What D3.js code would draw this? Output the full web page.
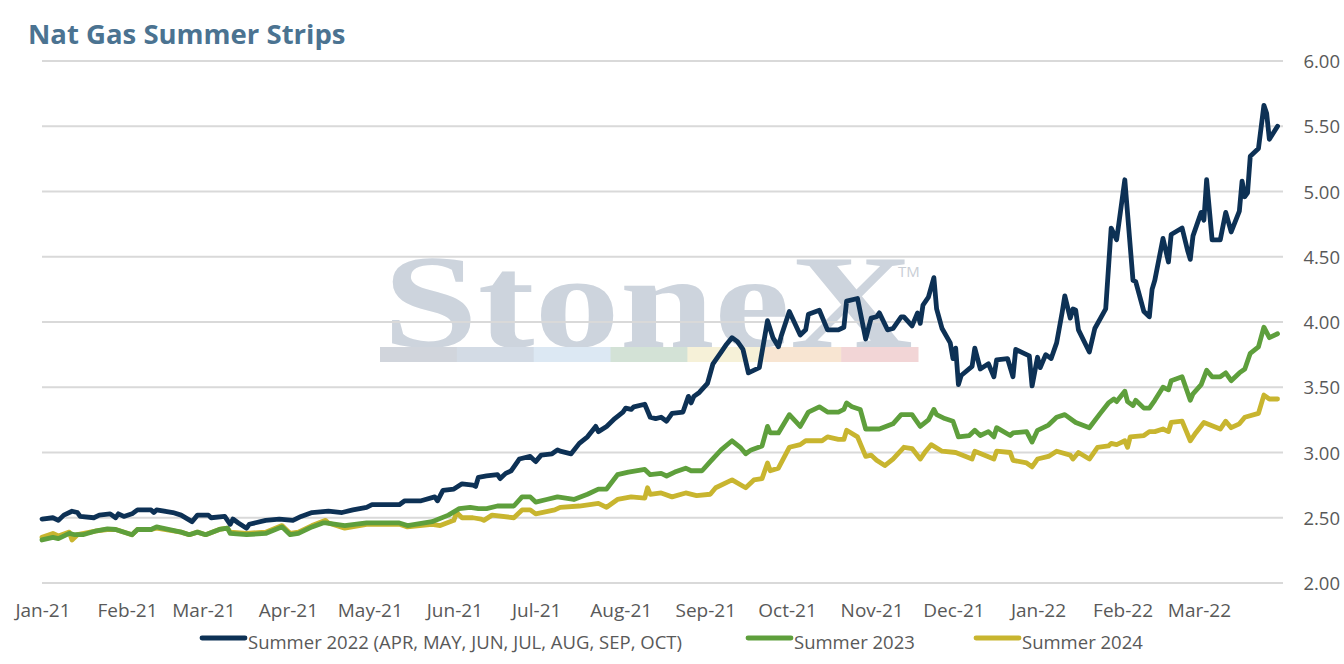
<!DOCTYPE html>
<html>
<head>
<meta charset="utf-8">
<script src="https://cdn.jsdelivr.net/npm/d3@7"></script>
<style>
    html, body { margin: 0; padding: 0; background: #fff; }
    svg { display: block; }
</style>
</head>
<body>
<div id="chart"></div>
<script>
const title = 'Nat Gas Summer Strips';

const seriesNames = [
    'Summer 2022 (APR, MAY, JUN, JUL, AUG, SEP, OCT)',
    'Summer 2023',
    'Summer 2024'
];

const yTicks = [2.0, 2.5, 3.0, 3.5, 4.0, 4.5, 5.0, 5.5, 6.0];

const summer2022 = [
    ['2021-01-01', 2.49], ['2021-01-05', 2.50], ['2021-01-07', 2.48], ['2021-01-09', 2.52], ['2021-01-12', 2.55],
    ['2021-01-14', 2.54], ['2021-01-15', 2.51], ['2021-01-20', 2.50], ['2021-01-22', 2.52], ['2021-01-26', 2.53],
    ['2021-01-28', 2.50], ['2021-01-29', 2.53], ['2021-01-31', 2.51], ['2021-02-03', 2.53], ['2021-02-05', 2.56],
    ['2021-02-10', 2.56], ['2021-02-11', 2.54], ['2021-02-12', 2.56], ['2021-02-18', 2.54], ['2021-02-21', 2.52],
    ['2021-02-25', 2.47], ['2021-02-27', 2.52], ['2021-03-03', 2.52], ['2021-03-04', 2.50], ['2021-03-09', 2.51],
    ['2021-03-11', 2.45], ['2021-03-12', 2.49], ['2021-03-14', 2.46], ['2021-03-17', 2.42], ['2021-03-18', 2.45],
    ['2021-03-24', 2.48], ['2021-03-29', 2.49], ['2021-04-03', 2.48], ['2021-04-06', 2.51], ['2021-04-10', 2.54],
    ['2021-04-16', 2.55], ['2021-04-21', 2.54], ['2021-04-25', 2.56], ['2021-04-30', 2.58], ['2021-05-02', 2.60],
    ['2021-05-06', 2.60], ['2021-05-12', 2.60], ['2021-05-14', 2.63], ['2021-05-20', 2.63], ['2021-05-25', 2.66],
    ['2021-05-26', 2.63], ['2021-05-28', 2.71], ['2021-06-01', 2.72], ['2021-06-04', 2.76], ['2021-06-08', 2.75],
    ['2021-06-09', 2.74], ['2021-06-10', 2.81], ['2021-06-13', 2.82], ['2021-06-17', 2.83], ['2021-06-18', 2.80],
    ['2021-06-20', 2.84], ['2021-06-22', 2.86], ['2021-06-25', 2.95], ['2021-06-29', 2.97], ['2021-07-01', 2.93],
    ['2021-07-03', 2.98], ['2021-07-07', 2.99], ['2021-07-09', 3.02], ['2021-07-10', 3.01], ['2021-07-14', 2.99],
    ['2021-07-17', 3.07], ['2021-07-20', 3.12], ['2021-07-23', 3.20], ['2021-07-24', 3.16], ['2021-07-27', 3.20],
    ['2021-07-30', 3.26], ['2021-08-02', 3.31], ['2021-08-03', 3.34], ['2021-08-05', 3.33], ['2021-08-06', 3.35],
    ['2021-08-10', 3.37], ['2021-08-12', 3.27], ['2021-08-14', 3.26], ['2021-08-16', 3.27], ['2021-08-18', 3.24],
    ['2021-08-20', 3.30], ['2021-08-24', 3.31], ['2021-08-26', 3.43], ['2021-08-27', 3.38], ['2021-08-28', 3.43],
    ['2021-08-30', 3.46], ['2021-09-02', 3.53], ['2021-09-04', 3.68], ['2021-09-07', 3.77], ['2021-09-09', 3.83],
    ['2021-09-11', 3.88], ['2021-09-13', 3.85], ['2021-09-15', 3.79], ['2021-09-17', 3.61], ['2021-09-21', 3.65],
    ['2021-09-24', 4.01], ['2021-09-26', 3.88], ['2021-09-28', 3.81], ['2021-09-29', 3.89], ['2021-10-02', 4.08],
    ['2021-10-06', 3.90], ['2021-10-08', 3.94], ['2021-10-09', 4.06], ['2021-10-13', 4.09], ['2021-10-16', 3.94],
    ['2021-10-20', 3.94], ['2021-10-22', 3.96], ['2021-10-23', 4.16], ['2021-10-27', 4.18], ['2021-10-30', 3.87],
    ['2021-11-01', 4.03], ['2021-11-03', 4.04], ['2021-11-04', 4.07], ['2021-11-07', 3.94], ['2021-11-09', 3.95],
    ['2021-11-12', 4.04], ['2021-11-13', 4.04], ['2021-11-16', 3.97], ['2021-11-18', 4.07], ['2021-11-19', 3.99],
    ['2021-11-20', 4.13], ['2021-11-22', 4.19], ['2021-11-24', 4.34], ['2021-11-25', 4.10], ['2021-11-27', 3.95],
    ['2021-11-30', 3.84], ['2021-12-01', 3.72], ['2021-12-02', 3.80], ['2021-12-03', 3.52], ['2021-12-04', 3.59],
    ['2021-12-08', 3.66], ['2021-12-09', 3.80], ['2021-12-11', 3.64], ['2021-12-14', 3.68], ['2021-12-16', 3.58],
    ['2021-12-17', 3.71], ['2021-12-21', 3.72], ['2021-12-23', 3.58], ['2021-12-24', 3.79], ['2021-12-28', 3.75],
    ['2021-12-29', 3.74], ['2021-12-30', 3.51], ['2022-01-01', 3.73], ['2022-01-02', 3.65], ['2022-01-04', 3.75],
    ['2022-01-06', 3.72], ['2022-01-08', 3.84], ['2022-01-10', 4.07], ['2022-01-11', 4.20], ['2022-01-13', 4.03],
    ['2022-01-14', 4.10], ['2022-01-15', 4.09], ['2022-01-16', 3.94], ['2022-01-20', 3.77], ['2022-01-22', 3.95],
    ['2022-01-26', 4.10], ['2022-01-28', 4.72], ['2022-01-30', 4.63], ['2022-02-02', 5.09], ['2022-02-05', 4.32],
    ['2022-02-06', 4.31], ['2022-02-09', 4.08], ['2022-02-11', 4.04], ['2022-02-12', 4.25], ['2022-02-13', 4.32],
    ['2022-02-16', 4.64], ['2022-02-18', 4.46], ['2022-02-19', 4.67], ['2022-02-23', 4.72], ['2022-02-25', 4.55],
    ['2022-02-26', 4.48], ['2022-02-27', 4.66], ['2022-03-02', 4.84], ['2022-03-03', 4.78], ['2022-03-04', 5.09],
    ['2022-03-06', 4.63], ['2022-03-09', 4.63], ['2022-03-11', 4.84], ['2022-03-13', 4.69], ['2022-03-16', 4.85],
    ['2022-03-17', 5.08], ['2022-03-18', 4.96], ['2022-03-19', 4.99], ['2022-03-20', 5.27], ['2022-03-23', 5.33],
    ['2022-03-25', 5.66], ['2022-03-26', 5.60], ['2022-03-27', 5.40], ['2022-03-30', 5.50]
];

const summer2023 = [
    ['2021-01-01', 2.33], ['2021-01-05', 2.35], ['2021-01-07', 2.34], ['2021-01-11', 2.38], ['2021-01-13', 2.37],
    ['2021-01-16', 2.37], ['2021-01-21', 2.40], ['2021-01-25', 2.415], ['2021-01-28', 2.41], ['2021-02-03', 2.37],
    ['2021-02-05', 2.41], ['2021-02-10', 2.41], ['2021-02-12', 2.43], ['2021-02-21', 2.39], ['2021-02-24', 2.37],
    ['2021-02-27', 2.39], ['2021-03-02', 2.37], ['2021-03-07', 2.41], ['2021-03-10', 2.42], ['2021-03-11', 2.38],
    ['2021-03-17', 2.37], ['2021-03-24', 2.38], ['2021-03-30', 2.43], ['2021-04-02', 2.37], ['2021-04-05', 2.38],
    ['2021-04-10', 2.43], ['2021-04-14', 2.46], ['2021-04-15', 2.46], ['2021-04-22', 2.44], ['2021-04-30', 2.46],
    ['2021-05-12', 2.46], ['2021-05-15', 2.44], ['2021-05-24', 2.47], ['2021-05-30', 2.52], ['2021-06-03', 2.57],
    ['2021-06-07', 2.58], ['2021-06-10', 2.57], ['2021-06-13', 2.57], ['2021-06-17', 2.59], ['2021-06-23', 2.59],
    ['2021-06-26', 2.66], ['2021-06-29', 2.66], ['2021-07-01', 2.62], ['2021-07-05', 2.64], ['2021-07-09', 2.66],
    ['2021-07-15', 2.64], ['2021-07-20', 2.68], ['2021-07-24', 2.72], ['2021-07-27', 2.72], ['2021-07-31', 2.83],
    ['2021-08-04', 2.85], ['2021-08-10', 2.87], ['2021-08-12', 2.83], ['2021-08-16', 2.84], ['2021-08-18', 2.82],
    ['2021-08-21', 2.85], ['2021-08-25', 2.88], ['2021-08-27', 2.86], ['2021-08-31', 2.86], ['2021-09-03', 2.93],
    ['2021-09-07', 3.02], ['2021-09-11', 3.09], ['2021-09-14', 3.04], ['2021-09-16', 2.99], ['2021-09-18', 3.02],
    ['2021-09-22', 3.05], ['2021-09-24', 3.20], ['2021-09-25', 3.15], ['2021-09-28', 3.15], ['2021-10-02', 3.29],
    ['2021-10-06', 3.20], ['2021-10-09', 3.31], ['2021-10-13', 3.35], ['2021-10-16', 3.31], ['2021-10-20', 3.31],
    ['2021-10-22', 3.33], ['2021-10-23', 3.38], ['2021-10-25', 3.35], ['2021-10-28', 3.33], ['2021-10-30', 3.18],
    ['2021-11-02', 3.18], ['2021-11-04', 3.18], ['2021-11-09', 3.22], ['2021-11-12', 3.29], ['2021-11-16', 3.29],
    ['2021-11-17', 3.26], ['2021-11-19', 3.20], ['2021-11-22', 3.25], ['2021-11-24', 3.33], ['2021-11-25', 3.29],
    ['2021-11-28', 3.26], ['2021-12-01', 3.24], ['2021-12-02', 3.18], ['2021-12-03', 3.12], ['2021-12-07', 3.13],
    ['2021-12-09', 3.17], ['2021-12-11', 3.13], ['2021-12-14', 3.16], ['2021-12-16', 3.12], ['2021-12-17', 3.19],
    ['2021-12-22', 3.13], ['2021-12-23', 3.15], ['2021-12-28', 3.16], ['2021-12-30', 3.08], ['2022-01-01', 3.17],
    ['2022-01-05', 3.21], ['2022-01-08', 3.27], ['2022-01-11', 3.29], ['2022-01-15', 3.23], ['2022-01-20', 3.19],
    ['2022-01-24', 3.30], ['2022-01-27', 3.38], ['2022-01-29', 3.41], ['2022-01-30', 3.39], ['2022-02-02', 3.47],
    ['2022-02-03', 3.39], ['2022-02-05', 3.36], ['2022-02-06', 3.40], ['2022-02-09', 3.34], ['2022-02-11', 3.34],
    ['2022-02-13', 3.40], ['2022-02-16', 3.50], ['2022-02-18', 3.48], ['2022-02-19', 3.55], ['2022-02-23', 3.58],
    ['2022-02-26', 3.40], ['2022-02-27', 3.45], ['2022-03-02', 3.52], ['2022-03-04', 3.63], ['2022-03-06', 3.58],
    ['2022-03-09', 3.58], ['2022-03-11', 3.61], ['2022-03-13', 3.55], ['2022-03-16', 3.61], ['2022-03-18', 3.64],
    ['2022-03-20', 3.76], ['2022-03-23', 3.81], ['2022-03-25', 3.96], ['2022-03-27', 3.88], ['2022-03-30', 3.91]
];

const summer2024 = [
    ['2021-01-01', 2.35], ['2021-01-05', 2.38], ['2021-01-07', 2.36], ['2021-01-11', 2.39], ['2021-01-12', 2.33],
    ['2021-01-14', 2.37], ['2021-01-21', 2.40], ['2021-01-25', 2.41], ['2021-01-28', 2.41], ['2021-02-03', 2.37],
    ['2021-02-05', 2.41], ['2021-02-10', 2.41], ['2021-02-12', 2.42], ['2021-02-21', 2.39], ['2021-02-24', 2.37],
    ['2021-02-27', 2.39], ['2021-03-02', 2.37], ['2021-03-07', 2.41], ['2021-03-10', 2.42], ['2021-03-11', 2.39],
    ['2021-03-17', 2.38], ['2021-03-24', 2.39], ['2021-03-30', 2.44], ['2021-04-02', 2.38], ['2021-04-05', 2.39],
    ['2021-04-10', 2.44], ['2021-04-15', 2.48], ['2021-04-16', 2.46], ['2021-04-22', 2.42], ['2021-04-30', 2.45],
    ['2021-05-12', 2.45], ['2021-05-15', 2.43], ['2021-05-24', 2.45], ['2021-05-27', 2.44], ['2021-06-01', 2.48],
    ['2021-06-02', 2.54], ['2021-06-04', 2.50], ['2021-06-08', 2.50], ['2021-06-11', 2.49], ['2021-06-12', 2.48],
    ['2021-06-15', 2.52], ['2021-06-23', 2.50], ['2021-06-26', 2.56], ['2021-06-29', 2.56], ['2021-07-01', 2.53],
    ['2021-07-08', 2.56], ['2021-07-10', 2.58], ['2021-07-17', 2.59], ['2021-07-24', 2.61], ['2021-07-27', 2.58],
    ['2021-07-31', 2.64], ['2021-08-05', 2.66], ['2021-08-10', 2.65], ['2021-08-11', 2.73], ['2021-08-12', 2.68],
    ['2021-08-16', 2.69], ['2021-08-20', 2.66], ['2021-08-25', 2.69], ['2021-08-29', 2.67], ['2021-09-03', 2.68],
    ['2021-09-05', 2.73], ['2021-09-11', 2.79], ['2021-09-16', 2.73], ['2021-09-19', 2.79], ['2021-09-22', 2.80],
    ['2021-09-24', 2.92], ['2021-09-25', 2.86], ['2021-09-28', 2.88], ['2021-10-02', 3.04], ['2021-10-06', 3.06],
    ['2021-10-08', 3.09], ['2021-10-14', 3.09], ['2021-10-16', 3.12], ['2021-10-20', 3.10], ['2021-10-22', 3.10],
    ['2021-10-23', 3.17], ['2021-10-27', 3.12], ['2021-10-30', 2.97], ['2021-11-01', 2.98], ['2021-11-03', 2.94],
    ['2021-11-06', 2.90], ['2021-11-09', 2.95], ['2021-11-13', 3.04], ['2021-11-16', 3.03], ['2021-11-19', 2.95],
    ['2021-11-21', 3.01], ['2021-11-23', 3.06], ['2021-11-27', 3.01], ['2021-12-02', 3.00], ['2021-12-08', 2.95],
    ['2021-12-09', 3.01], ['2021-12-16', 2.95], ['2021-12-17', 3.01], ['2021-12-22', 3.00], ['2021-12-23', 2.94],
    ['2021-12-28', 2.92], ['2021-12-30', 2.89], ['2022-01-01', 2.95], ['2022-01-05', 2.97], ['2022-01-08', 3.01],
    ['2022-01-13', 2.98], ['2022-01-14', 2.95], ['2022-01-16', 3.00], ['2022-01-20', 2.95], ['2022-01-23', 3.04],
    ['2022-01-27', 3.05], ['2022-01-28', 3.07], ['2022-01-30', 3.06], ['2022-02-02', 3.09], ['2022-02-03', 3.04],
    ['2022-02-04', 3.12], ['2022-02-09', 3.13], ['2022-02-11', 3.16], ['2022-02-13', 3.16], ['2022-02-16', 3.18],
    ['2022-02-18', 3.16], ['2022-02-19', 3.23], ['2022-02-23', 3.24], ['2022-02-26', 3.09], ['2022-02-28', 3.15],
    ['2022-03-03', 3.23], ['2022-03-09', 3.18], ['2022-03-11', 3.24], ['2022-03-13', 3.19], ['2022-03-16', 3.22],
    ['2022-03-18', 3.27], ['2022-03-23', 3.30], ['2022-03-25', 3.44], ['2022-03-27', 3.41], ['2022-03-30', 3.41]
];

const seriesColors = ['#0d3155', '#5e9f3c', '#c8b52f'];
const watermarkBand = ['#d1d5dc', '#d3dbe5', '#dce8f3', '#d3e2d6', '#f6f1d8', '#f8e5d2', '#f2d5d6'];

const width = 1344;
const height = 664;
const plot = { left: 42, right: 1283, top: 61, bottom: 583 };

const parseDate = d3.timeParse('%Y-%m-%d');

const svg = d3.select('#chart')
    .append('svg')
    .attr('width', width)
    .attr('height', height)
    .style('font-family', '"Open Sans", "DejaVu Sans", sans-serif')

const x = d3.scaleTime()
    .domain([parseDate('2021-01-01'), parseDate('2022-04-01')])
    .range([plot.left, plot.right])

const y = d3.scaleLinear()
    .domain([2, 6])
    .range([plot.bottom, plot.top])

drawTitle();
drawWatermark();
drawGrid();
drawXAxis();
drawLines();
drawLegend();

/**
 * Chart title, top left
 */
function drawTitle() {
    svg.append('text')
        .attr('x', 28)
        .attr('y', 44)
        .style('font-size', '27.5px')
        .style('font-weight', 700)
        .style('fill', '#4b7391')
        .text(title)
}

/**
 * StoneX logo behind the plot
 */
function drawWatermark() {
    const g = svg.append('g').attr('class', 'watermark')

    g.append('text')
        .attr('x', 383)
        .attr('y', 347)
        .attr('textLength', 530)
        .attr('lengthAdjust', 'spacingAndGlyphs')
        .style('font-family', '"Liberation Serif", "DejaVu Serif", serif')
        .style('font-weight', 700)
        .style('font-size', '134px')
        .style('fill', '#cdd4dd')
        .text('StoneX')

    g.append('text')
        .attr('x', 898)
        .attr('y', 277)
        .style('font-size', '15px')
        .style('fill', '#c9ced5')
        .text('TM')

    const band = d3.scaleBand()
        .domain(d3.range(watermarkBand.length))
        .range([380, 918])

    g.selectAll('rect')
        .data(watermarkBand)
        .join('rect')
        .attr('x', (d, i) => band(i))
        .attr('y', 347)
        .attr('width', band.bandwidth() + 0.5)
        .attr('height', 15)
        .style('fill', d => d)
}

/**
 * Horizontal gridlines and right hand value labels
 */
function drawGrid() {
    const g = svg.append('g').attr('class', 'grid')

    g.selectAll('line')
        .data(yTicks)
        .join('line')
        .attr('x1', plot.left)
        .attr('x2', plot.right)
        .attr('y1', d => y(d))
        .attr('y2', d => y(d))
        .style('stroke', '#d9d9d9')
        .style('stroke-width', 2)

    g.selectAll('text')
        .data(yTicks)
        .join('text')
        .attr('x', 1340)
        .attr('y', d => y(d) + 7)
        .attr('text-anchor', 'end')
        .style('font-size', '18.5px')
        .style('fill', '#595959')
        .text(d3.format('.2f'))
}

/**
 * Month labels along the bottom
 */
function drawXAxis() {
    const months = x.ticks(d3.timeMonth.every(1))
        .filter(d => d < parseDate('2022-04-01'))

    svg.append('g')
        .attr('class', 'x-axis')
        .selectAll('text')
        .data(months)
        .join('text')
        .attr('x', d => x(d) + 1)
        .attr('y', 617)
        .attr('text-anchor', 'middle')
        .style('font-size', '19px')
        .style('fill', '#595959')
        .text(d3.timeFormat('%b-%y'))
}

/**
 * The three strip series
 */
function drawLines() {
    const line = d3.line()
        .x(d => x(parseDate(d[0])))
        .y(d => y(d[1]))

    const data = [summer2022, summer2023, summer2024]

    svg.append('g')
        .attr('class', 'lines')
        .selectAll('path')
        .data(data.slice().reverse())
        .join('path')
        .attr('d', line)
        .style('fill', 'none')
        .style('stroke', (d, i) => seriesColors[data.length - 1 - i])
        .style('stroke-width', 4.8)
        .style('stroke-linejoin', 'round')
        .style('stroke-linecap', 'round')
}

/**
 * Legend row under the axis
 */
function drawLegend() {
    const starts = [202, 748, 976]

    const item = svg.append('g')
        .attr('class', 'legend')
        .selectAll('g')
        .data(seriesNames)
        .join('g')
        .attr('transform', (d, i) => `translate(${starts[i]}, 638)`)

    item.append('line')
        .attr('x1', 0)
        .attr('x2', 43)
        .style('stroke', (d, i) => seriesColors[i])
        .style('stroke-width', 4.8)
        .style('stroke-linecap', 'round')

    item.append('text')
        .attr('x', 46)
        .attr('y', 11)
        .style('font-size', '18.5px')
        .style('fill', '#595959')
        .text(d => d)
}
</script>
</body>
</html>
